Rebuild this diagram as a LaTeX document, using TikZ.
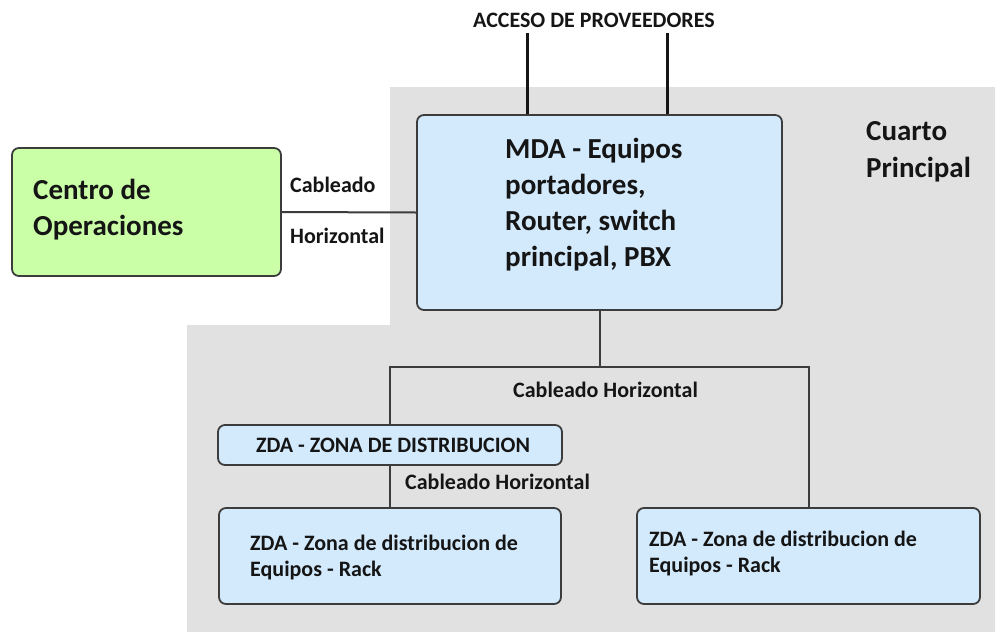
\documentclass[tikz,border=0pt]{standalone}
\usepackage{fontspec}
\setmainfont{Carlito}
\definecolor{roomgray}{HTML}{E1E1E1}
\definecolor{boxgreen}{HTML}{CAFFA8}
\definecolor{boxblue}{HTML}{D3EAFD}
\definecolor{edge}{HTML}{3C3C3C}
\definecolor{ink}{HTML}{151515}
\tikzset{
  box/.style={draw=edge, line width=1.8pt, rounded corners=7pt, inner sep=0pt},
  wire/.style={draw=edge, line width=2pt},
  feed/.style={draw=ink, line width=3pt},
  big/.style={text=ink, inner sep=0pt, anchor=base west, font=\fontsize{29}{36}\selectfont\bfseries, align=left},
  small/.style={text=ink, inner sep=0pt, anchor=base west, font=\fontsize{22}{26}\selectfont\bfseries},
}
\begin{document}
\begin{tikzpicture}[x=1pt,y=-1pt]
\useasboundingbox (0,0) rectangle (999,632);
% main room background
\fill[roomgray] (390,87) -- (995,87) -- (995,632) -- (187,632) -- (187,325) -- (390,325) -- cycle;

% boxes
\node[box, fill=boxgreen, minimum width=269pt, minimum height=128pt] (ops) at (146.5,212) {};
\node[box, fill=boxblue, minimum width=365pt, minimum height=195pt] (mda) at (599.5,212.5) {};
\node[box, fill=boxblue, minimum width=344pt, minimum height=40pt] (zdist) at (390,445) {};
\node[box, fill=boxblue, minimum width=342pt, minimum height=96pt] (rackL) at (390,556) {};
\node[box, fill=boxblue, minimum width=343pt, minimum height=96pt] (rackR) at (808.5,556) {};

% box texts
\node[big] (opsT) at (33,199) {\parbox[t]{230pt}{\fontsize{29}{36}\selectfont\bfseries Centro de\\Operaciones}};
\node[big] (mdaT) at (505,158) {\parbox[t]{260pt}{\fontsize{29}{36}\selectfont\bfseries MDA - Equipos\\portadores,\\Router, switch\\principal, PBX}};
\node[big] (roomT) at (866,140) {\parbox[t]{130pt}{\fontsize{29}{37}\selectfont\bfseries Cuarto\\Principal}};
\node[small, anchor=base] (zdistT) at (393,452) {ZDA - ZONA DE DISTRIBUCION};
\node[small] (rackLT) at (250,550) {\parbox[t]{300pt}{\fontsize{22}{26}\selectfont\bfseries ZDA - Zona de distribucion de\\Equipos - Rack}};
\node[small] (rackRT) at (649,546) {\parbox[t]{300pt}{\fontsize{22}{26}\selectfont\bfseries ZDA - Zona de distribucion de\\Equipos - Rack}};

% provider access
\node[small, anchor=base] (acc) at (594,27) {ACCESO DE PROVEEDORES};
\coordinate (acc1) at (527,33);
\coordinate (acc2) at (667,33);
\draw[feed] (acc1) -- (acc1 |- mda.north);
\draw[feed] (acc2) -- (acc2 |- mda.north);

% cabling
\draw[wire] (ops.east) -- (mda.west);
\node[small] (cabL1) at (290,192) {Cableado};
\node[small] (cabL2) at (290,243) {Horizontal};

\coordinate (bus) at (599.5,367);
\draw[wire] (mda.south) -- (bus);
\draw[wire] (zdist.north) |- (bus) -| (rackR.north);
\node[small] (cabU) at (513,397) {Cableado Horizontal};

\draw[wire] (zdist.south) -- (rackL.north);
\node[small] (cabD) at (405,489) {Cableado Horizontal};
\end{tikzpicture}
\end{document}
